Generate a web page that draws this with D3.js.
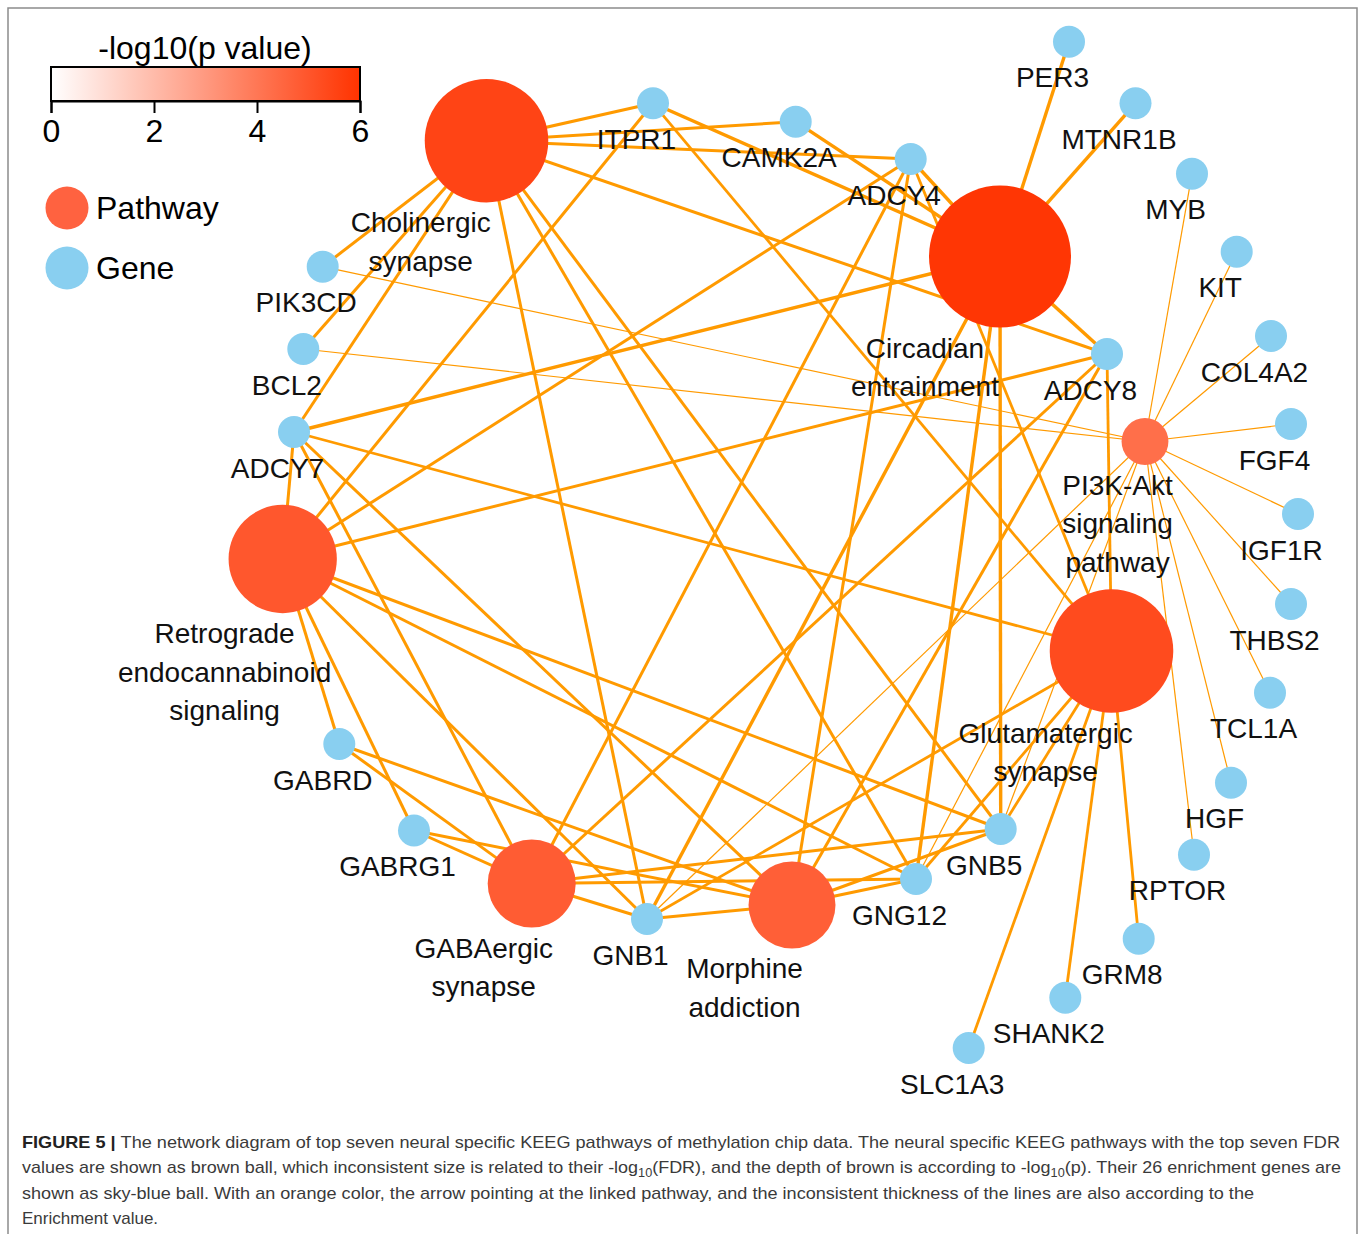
<!DOCTYPE html>
<html>
<head>
<meta charset="utf-8">
<script src="https://cdn.jsdelivr.net/npm/d3@7"></script>
<style>
  body { margin: 0; background: #fff; }
  text { font-family: "Liberation Sans", Arial, Helvetica, sans-serif; }
</style>
</head>
<body>
<div id="chart"></div>
<script>
// ---- pathways (brown balls) ----
const pathwayNames = ["Cholinergic synapse", "Circadian entrainment", "PI3K-Akt signaling pathway",
  "Glutamatergic synapse", "Morphine addiction", "GABAergic synapse", "Retrograde endocannabinoid signaling"];
const pathwayLabels = [["Cholinergic", "synapse"], ["Circadian", "entrainment"], ["PI3K-Akt", "signaling", "pathway"],
  ["Glutamatergic", "synapse"], ["Morphine", "addiction"], ["GABAergic", "synapse"], ["Retrograde", "endocannabinoid", "signaling"]];
const pathwayLogP = [5.5, 5.9, 4.25, 5.3, 4.7, 4.8, 4.95];       // -log10(p)  -> colour
const pathwayLogFDR = [3.48, 4.0, 1.32, 3.48, 2.45, 2.48, 3.05];  // -log10(FDR) -> size
const pathwayEnrichment = [3.0, 3.4, 1.2, 2.8, 3.0, 3.0, 3.0];    // -> line thickness
// layout coordinates (network layout units)
const pathwayLayoutX = [48.65, 100.0, 114.5, 111.15, 79.2, 53.17, 28.27];
const pathwayLayoutY = [14.07, 25.65, 44.15, 65.1, 90.5, 88.35, 55.9];

// ---- genes (sky-blue balls) ----
const geneNames = ["PER3", "MTNR1B", "MYB", "KIT", "COL4A2", "FGF4", "IGF1R", "THBS2", "TCL1A", "HGF",
  "RPTOR", "GRM8", "SHANK2", "SLC1A3", "GNB5", "GNG12", "GNB1", "GABRG1", "GABRD", "ADCY7", "BCL2",
  "PIK3CD", "ITPR1", "CAMK2A", "ADCY4", "ADCY8"];
const geneLayoutX = [106.9, 113.55, 119.2, 123.67, 127.1, 129.1, 129.8, 129.1, 127.0, 123.1,
  119.4, 113.87, 106.53, 96.87, 100.07, 91.6, 64.7, 41.4, 33.93, 29.4, 30.33,
  32.27, 65.3, 79.57, 91.07, 110.7];
const geneLayoutY = [4.17, 10.33, 17.37, 25.17, 33.6, 42.4, 51.4, 60.4, 69.27, 78.27,
  85.47, 93.87, 99.77, 104.8, 82.9, 87.9, 91.9, 83.05, 74.4, 43.2, 34.9,
  26.67, 10.33, 12.17, 15.9, 35.4];

// ---- gene membership of each pathway (edges) ----
const pathwayGenes = [
  ["ITPR1", "CAMK2A", "ADCY4", "ADCY8", "ADCY7", "PIK3CD", "BCL2", "GNB1", "GNG12", "GNB5"],
  ["PER3", "MTNR1B", "ITPR1", "CAMK2A", "ADCY4", "ADCY8", "ADCY7", "GNB1", "GNG12", "GNB5"],
  ["MYB", "KIT", "COL4A2", "FGF4", "IGF1R", "THBS2", "TCL1A", "HGF", "RPTOR", "PIK3CD", "BCL2", "GNB1", "GNG12", "GNB5"],
  ["ITPR1", "ADCY4", "ADCY8", "ADCY7", "GNB1", "GNG12", "GNB5", "GRM8", "SHANK2", "SLC1A3"],
  ["ADCY4", "ADCY8", "ADCY7", "GABRD", "GABRG1", "GNB1", "GNG12", "GNB5"],
  ["ADCY4", "ADCY8", "ADCY7", "GABRD", "GABRG1", "GNB1", "GNG12", "GNB5"],
  ["ITPR1", "ADCY4", "ADCY8", "ADCY7", "GABRD", "GABRG1", "GNB1", "GNG12", "GNB5"]
];

// ---- colour bar ----
const colorTicks = [0, 2, 4, 6];
const legendItems = ["Pathway", "Gene"];

const captionLines = [
  [["FIGURE 5 | ", "b"], ["The network diagram of top seven neural specific KEEG pathways of methylation chip data. The neural specific KEEG pathways with the top seven FDR", ""]],
  [["values are shown as brown ball, which inconsistent size is related to their -log", ""], ["10", "sub"], ["(FDR), and the depth of brown is according to -log", ""], ["10", "sub"], ["(p). Their 26 enrichment genes are", ""]],
  [["shown as sky-blue ball. With an orange color, the arrow pointing at the linked pathway, and the inconsistent thickness of the lines are also according to the", ""]],
  [["Enrichment value.", ""]]
];
const captionEnds = [1340, 1341, 1254, null];

// ---------------------------------------------------------------
const W = 1365, H = 1234;
const svg = d3.select("#chart").append("svg")
    .attr("width", W).attr("height", H);

// page frame
svg.append("path")
    .attr("d", `M8,${H} V8 H1357 V${H}`)
    .attr("fill", "none").attr("stroke", "#8c8c8c").attr("stroke-width", 1.5);

const x = d3.scaleLinear().domain([0, 136.5]).range([0, W]);
const y = d3.scaleLinear().domain([0, 123.4]).range([0, H]);
const color = d3.scaleLinear().domain([0, 6]).range(["#ffffff", "#ff3300"]);
const radius = d3.scaleLinear().domain([0, 4]).range([0, 71]);
const width = d3.scaleLinear().domain([0, 1]).range([0, 1]);
const geneR = 16;

const pathways = pathwayNames.map((n, i) => ({
  name: n, lines: pathwayLabels[i], logP: pathwayLogP[i], logFDR: pathwayLogFDR[i],
  enr: pathwayEnrichment[i], x: x(pathwayLayoutX[i]), y: y(pathwayLayoutY[i]), r: radius(pathwayLogFDR[i])
}));
const genes = geneNames.map((n, i) => ({ name: n, x: x(geneLayoutX[i]), y: y(geneLayoutY[i]), r: geneR }));
const geneByName = new Map(genes.map(g => [g.name, g]));

const links = [];
pathways.forEach((p, i) => pathwayGenes[i].forEach(g => links.push({ source: geneByName.get(g), target: p })));

// edges
svg.append("g").selectAll("line")
    .data(links)
    .enter().append("line")
    .attr("x1", d => d.source.x).attr("y1", d => d.source.y)
    .attr("x2", d => d.target.x).attr("y2", d => d.target.y)
    .attr("stroke", "#ff9a00")
    .attr("stroke-width", d => width(d.target.enr));

// nodes
svg.append("g").selectAll("circle.pathway")
    .data(pathways)
    .enter().append("circle")
    .attr("class", "pathway")
    .attr("cx", d => d.x).attr("cy", d => d.y).attr("r", d => d.r)
    .attr("fill", d => color(d.logP));

svg.append("g").selectAll("circle.gene")
    .data(genes)
    .enter().append("circle")
    .attr("class", "gene")
    .attr("cx", d => d.x).attr("cy", d => d.y).attr("r", d => d.r)
    .attr("fill", "#89cff0");

// labels
const pLab = svg.append("g").selectAll("text")
    .data(pathways)
    .enter().append("text")
    .attr("font-size", 28).attr("fill", "#111").attr("text-anchor", "middle");
pLab.selectAll("tspan")
    .data(d => d.lines.map((t, k) => ({ t, k, p: d })))
    .enter().append("tspan")
    .attr("x", d => d.p.x - d.p.r - 4)
    .attr("y", d => d.p.y + d.p.r + 30 + d.k * 38.5)
    .text(d => d.t);

svg.append("g").selectAll("text")
    .data(genes)
    .enter().append("text")
    .attr("font-size", 28).attr("fill", "#111").attr("text-anchor", "middle")
    .attr("x", d => d.x - 16.5)
    .attr("y", d => d.y + 45.5)
    .text(d => d.name);

// ---- colour bar legend ----
const cb = d3.scaleLinear().domain([0, 6]).range([51, 360]);
const grad = svg.append("defs").append("linearGradient").attr("id", "cbar");
d3.range(0, 6.01, 0.5).forEach(v => grad.append("stop")
    .attr("offset", (v / 6 * 100) + "%").attr("stop-color", color(v)));

svg.append("text")
    .attr("x", 205).attr("y", 59).attr("text-anchor", "middle")
    .attr("font-size", 32).attr("fill", "#000")
    .text("-log10(p value)");

svg.append("rect")
    .attr("x", cb(0)).attr("y", 67).attr("width", cb(6) - cb(0)).attr("height", 34)
    .attr("fill", "url(#cbar)").attr("stroke", "#000").attr("stroke-width", 2);

const cbAxis = svg.append("g")
    .attr("transform", "translate(0,101)")
    .call(d3.axisBottom(cb).tickValues(colorTicks).tickFormat(d3.format("d")).tickSize(12).tickPadding(6));
cbAxis.select(".domain").attr("stroke-width", 2);
cbAxis.selectAll(".tick line").attr("stroke-width", 2);
cbAxis.selectAll(".tick text").attr("font-size", 32).attr("font-family", "Liberation Sans, Arial, sans-serif").attr("fill", "#000");

// node type legend
const legColors = ["#ff6240", "#89cff0"];
const leg = svg.append("g").selectAll("g")
    .data(legendItems)
    .enter().append("g")
    .attr("transform", (d, i) => `translate(67,${208 + i * 60})`);
leg.append("circle").attr("r", 21.5).attr("fill", (d, i) => legColors[i]);
leg.append("text").attr("x", 29).attr("y", 11).attr("font-size", 32).attr("fill", "#000").text(d => d);

// ---- caption ----
captionLines.forEach((parts, i) => {
  const t = svg.append("text")
      .attr("x", 22).attr("y", 1148 + i * 25.3)
      .attr("font-size", 17).attr("fill", "#3a3a3a");
  parts.forEach(([s, kind]) => {
    const ts = t.append("tspan").text(s);
    if (kind === "b") ts.attr("font-weight", "bold").attr("fill", "#222");
    if (kind === "sub") ts.attr("font-size", 12).attr("dy", 4);
  });
  // restore baseline after subscripts
  t.selectAll("tspan").each(function (d, k, nodes) {
    const prev = nodes[k - 1];
    if (prev && prev.getAttribute("dy") === "4" && this.getAttribute("dy") !== "4") d3.select(this).attr("dy", -4);
  });
  if (captionEnds[i]) t.attr("textLength", captionEnds[i] - 22).attr("lengthAdjust", "spacingAndGlyphs");
});
</script>
</body>
</html>
